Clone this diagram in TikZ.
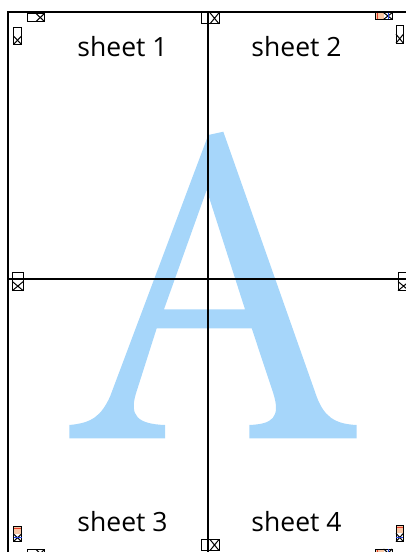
\documentclass[tikz,border=0pt]{standalone}
\usepackage{fontspec}
\setmainfont{Open Sans}
\definecolor{Ablue}{RGB}{166,214,250}
\definecolor{mred}{RGB}{230,60,40}
\definecolor{morange}{RGB}{250,200,165}
\definecolor{mblue}{RGB}{40,70,230}
\tikzset{
  frameline/.style={line width=1.3pt,black},
  markline/.style={line width=1pt,black},
  label/.style={font=\fontsize{26.5}{26.5}\selectfont,anchor=base},
  pics/hmark/.style 2 args={code={
    \draw[markline] (-#1,-#2) rectangle (#1,#2);
    \draw[markline] (0,-#2) -- (#1,#2) (0,#2) -- (#1,-#2);}},
  pics/vmark/.style 2 args={code={
    \draw[markline] (-#1,-#2) rectangle (#1,#2);
    \draw[markline] (-#1,0) -- (#1,#2) (-#1,#2) -- (#1,0);}},
  pics/hmarkc/.style 2 args={code={
    \fill[morange] (-#1,-#2) rectangle (0,#2);
    \draw[mred,line width=1pt] (-#1+2,-#2) -- (-#1+2,#2);
    \draw[markline] (-#1,-#2) rectangle (#1,#2);
    \draw[markline] (0,-#2) -- (#1,#2) (0,#2) -- (#1,-#2);
    \draw[mblue,line width=0.7pt] (0.5*#1,-#2) -- (0.5*#1,#2);}},
  pics/vmarkc/.style 2 args={code={
    \fill[morange] (-#1,-#2) rectangle (#1,0);
    \draw[mred,line width=1pt] (-#1,-#2+2) -- (#1,-#2+2);
    \draw[markline] (-#1,-#2) rectangle (#1,#2);
    \draw[markline] (-#1,0) -- (#1,#2) (-#1,#2) -- (#1,0);
    \draw[mblue,line width=0.7pt] (-#1,0.5*#2) -- (#1,0.5*#2);}},
}
\begin{document}
\begin{tikzpicture}[x=1pt,y=-1pt]
\useasboundingbox (0,0) rectangle (406,552);
% watermark letter A
\fill[Ablue,even odd rule]
  (208.3,135) -- (223.3,131.7) -- (316.7,396.7)
  .. controls (324,416) and (334,424) .. (356.7,425)
  -- (356.7,438.3) -- (249.3,438.3) -- (249.3,425)
  .. controls (272,424) and (281,418) .. (273.3,393.3)
  -- (251.7,328.3) -- (156.7,328.3) -- (136,393.3)
  .. controls (129,416) and (138,424) .. (165,425)
  -- (165,438.3) -- (69.3,438.3) -- (69.3,425)
  .. controls (92,423) and (101,416) .. (110,396.7) -- cycle
  (206.7,190) -- (245,309.3) -- (164,309.3) -- cycle;
% frame and cut lines
\coordinate (tl) at (8,12);
\coordinate (tr) at (406,12);
\coordinate (bl) at (8,552);
\coordinate (tc) at (208,12);
\coordinate (bc) at (208,552);
\coordinate (ml) at (8,279);
\coordinate (mr) at (406,279);
\draw[frameline] (bl) -- (tl) -- (tr);
\draw[frameline] (tc) -- (bc);
\draw[frameline] (ml) -- (mr);
% labels
\node[label] (s1) at (122.5,56.5) {sheet 1};
\node[label] (s2) at (296.5,56.5) {sheet 2};
\node[label] (s3) at (122.5,531) {sheet 3};
\node[label] (s4) at (296.5,531) {sheet 4};
% marks
\pic at (36,17.5) {hmark={8.5}{4}};
\pic at (17.5,36) {vmark={4}{8.5}};
\pic at (210,18.3) {hmark={9}{5.5}};
\pic at (383.7,16) {hmarkc={8.5}{3.3}};
\pic at (399.7,34.2) {vmark={3.7}{9}};
\pic at (17.8,281.5) {vmark={5.5}{9.2}};
\pic at (403.5,281.5) {vmark={5.5}{9.2}};
\pic at (17.5,534) {vmarkc={4}{7.5}};
\pic at (36,553.5) {hmark={8.5}{4}};
\pic at (210,545) {hmark={9}{5.5}};
\pic at (399.7,533.3) {vmarkc={3.7}{8.3}};
\pic at (383.7,553) {hmarkc={8.5}{4}};
\end{tikzpicture}
\end{document}
